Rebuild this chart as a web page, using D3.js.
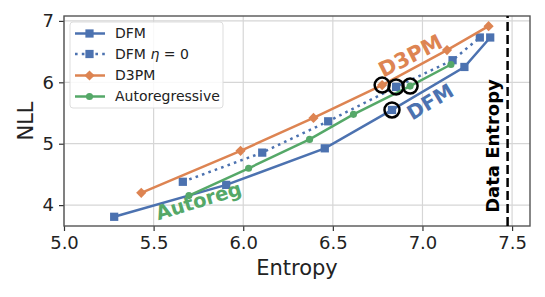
<!DOCTYPE html>
<html>
<head>
<meta charset="utf-8">
<script src="https://cdn.jsdelivr.net/npm/d3@7"></script>
<style>
  body { margin: 0; background: #fff; }
  text { font-family: "DejaVu Sans", sans-serif; }
</style>
</head>
<body>
<svg id="chart" width="545" height="297"></svg>
<script>
// data
var dfmX = [5.28, 5.905, 6.455, 6.83, 7.234, 7.378];
var dfmY = [3.81, 4.33, 4.925, 5.55, 6.25, 6.73];
var dfmEtaX = [5.663, 6.106, 6.474, 6.853, 7.168, 7.32];
var dfmEtaY = [4.38, 4.855, 5.365, 5.925, 6.36, 6.73];
var d3pmX = [5.431, 5.985, 6.392, 6.775, 7.137, 7.369];
var d3pmY = [4.20, 4.885, 5.42, 5.955, 6.525, 6.915];
var arX = [5.697, 6.03, 6.37, 6.615, 6.931, 7.159];
var arY = [4.155, 4.60, 5.07, 5.478, 5.938, 6.29];
var circledIdx = [3, 3, 3, 4];
var dataEntropy = 7.475;
var xTicks = [5.0, 5.5, 6.0, 6.5, 7.0, 7.5];
var yTicks = [4, 5, 6, 7];

var svg = d3.select('#chart');
var margin = { top: 16, left: 64, bottom: 71, right: 15 };
var width = 545, height = 297;

var x = d3.scaleLinear().domain([5.0, 7.6]).range([margin.left, width - margin.right]);
var y = d3.scaleLinear().domain([3.66, 7.08]).range([height - margin.bottom, margin.top]);

// grid
svg.append("g").selectAll("line.gx").data(xTicks).enter().append("line")
    .attr("x1", d => x(d)).attr("x2", d => x(d))
    .attr("y1", y.range()[0]).attr("y2", y.range()[1])
    .attr("stroke", "#d6d6d6").attr("stroke-width", 1.2);
svg.append("g").selectAll("line.gy").data(yTicks).enter().append("line")
    .attr("y1", d => y(d)).attr("y2", d => y(d))
    .attr("x1", x.range()[0]).attr("x2", x.range()[1])
    .attr("stroke", "#d6d6d6").attr("stroke-width", 1.2);

// axes
var xAxis = d3.axisBottom(x).tickValues(xTicks).tickFormat(d3.format(".1f")).tickSize(5).tickPadding(5);
var yAxis = d3.axisLeft(y).tickValues(yTicks).tickFormat(d3.format("d")).tickSize(5).tickPadding(5);

var gx = svg.append("g").attr("transform", "translate(0," + (height - margin.bottom) + ")").call(xAxis);
var gy = svg.append("g").attr("transform", "translate(" + margin.left + ",0)").call(yAxis);
[gx, gy].forEach(function (g) {
    g.select(".domain").remove();
    g.selectAll("line").attr("stroke", "#333").attr("stroke-width", 1.2);
    g.selectAll("text").attr("font-size", 18).attr("fill", "#222").style("font-family", "DejaVu Sans");
});

// frame
svg.append("rect")
    .attr("x", x.range()[0]).attr("y", y.range()[1])
    .attr("width", x.range()[1] - x.range()[0]).attr("height", y.range()[0] - y.range()[1])
    .attr("fill", "none").attr("stroke", "#555").attr("stroke-width", 1.4);

var blue = "#4C72B0", orange = "#DD8452", green = "#55A868";

var series = [
    { name: "DFM", xs: dfmX, ys: dfmY, color: blue, marker: "square", dash: null },
    { name: "DFM \u03B7", xs: dfmEtaX, ys: dfmEtaY, color: blue, marker: "square", dash: "2.6,4.2" },
    { name: "D3PM", xs: d3pmX, ys: d3pmY, color: orange, marker: "diamond", dash: null },
    { name: "Autoregressive", xs: arX, ys: arY, color: green, marker: "circle", dash: null }
];

var symbols = {
    square: d3.symbol().type(d3.symbolSquare).size(68),
    diamond: d3.symbol().type(d3.symbolSquare).size(52),
    circle: d3.symbol().type(d3.symbolCircle).size(40)
};

function drawMarker(g, kind, cx, cy, color) {
    g.append("path")
        .attr("d", symbols[kind]())
        .attr("transform", "translate(" + cx + "," + cy + ")" + (kind === "diamond" ? " rotate(45)" : ""))
        .attr("fill", color);
}

var line = d3.line().x(d => x(d[0])).y(d => y(d[1]));

var plot = svg.append("g");
series.forEach(function (s) {
    var pts = s.xs.map((v, i) => [v, s.ys[i]]);
    plot.append("path").datum(pts)
        .attr("d", line)
        .attr("fill", "none")
        .attr("stroke", s.color)
        .attr("stroke-width", 2.5)
        .attr("stroke-dasharray", s.dash);
    pts.forEach(function (p) { drawMarker(plot, s.marker, x(p[0]), y(p[1]), s.color); });
});

// circled points
series.forEach(function (s, k) {
    var i = circledIdx[k];
    plot.append("circle")
        .attr("cx", x(s.xs[i])).attr("cy", y(s.ys[i]))
        .attr("r", 7.5).attr("fill", "none")
        .attr("stroke", "#000").attr("stroke-width", 2.5);
});

// data entropy line
svg.append("line")
    .attr("x1", x(dataEntropy)).attr("x2", x(dataEntropy))
    .attr("y1", y.range()[0]).attr("y2", y.range()[1])
    .attr("stroke", "#000").attr("stroke-width", 2.5)
    .attr("stroke-dasharray", "9,4");

svg.append("text")
    .attr("transform", "translate(" + (x(dataEntropy) - 9) + "," + 146 + ") rotate(-90)")
    .attr("text-anchor", "middle")
    .attr("font-size", 18).attr("font-weight", "bold")
    .text("Data Entropy");

// inline labels
function label(txt, cx, cy, angle, size, color) {
    svg.append("text")
        .attr("transform", "translate(" + cx + "," + cy + ") rotate(" + angle + ")")
        .attr("text-anchor", "middle").attr("dominant-baseline", "middle")
        .attr("font-size", size).attr("font-weight", "bold").attr("fill", color)
        .text(txt);
}
label("D3PM", 411, 57, -27, 21, orange);
label("DFM", 431, 103, -31, 20, blue);
label("Autoreg", 199, 202, -17, 19.5, green);

// legend
var lg = svg.append("g");
lg.append("rect").attr("x", 70).attr("y", 22).attr("width", 153).attr("height", 86)
    .attr("rx", 3).attr("fill", "#fff").attr("fill-opacity", 0.85)
    .attr("stroke", "#ddd").attr("stroke-width", 1);
var legendY = [33.5, 54, 75.5, 96.5];
series.forEach(function (s, i) {
    var ly = legendY[i];
    lg.append("line").attr("x1", 75).attr("x2", 105).attr("y1", ly).attr("y2", ly)
        .attr("stroke", s.color).attr("stroke-width", 2.5)
        .attr("stroke-dasharray", s.dash);
    drawMarker(lg, s.marker, 89.5, ly, s.color);
    var t = lg.append("text").attr("x", 115).attr("y", ly).attr("dy", "0.35em")
        .attr("font-size", 14).attr("fill", "#222");
    if (i === 1) {
        t.append("tspan").text("DFM ");
        t.append("tspan").attr("font-style", "italic").text("\u03B7");
        t.append("tspan").text(" = 0");
    } else {
        t.text(s.name);
    }
});

// axis titles
svg.append("text")
    .attr("x", (x.range()[0] + x.range()[1]) / 2).attr("y", 275)
    .attr("text-anchor", "middle").attr("font-size", 21).attr("fill", "#222")
    .text("Entropy");
svg.append("text")
    .attr("transform", "translate(" + 33 + "," + 121 + ") rotate(-90)")
    .attr("text-anchor", "middle").attr("font-size", 21).attr("fill", "#222")
    .text("NLL");
</script>
</body>
</html>
